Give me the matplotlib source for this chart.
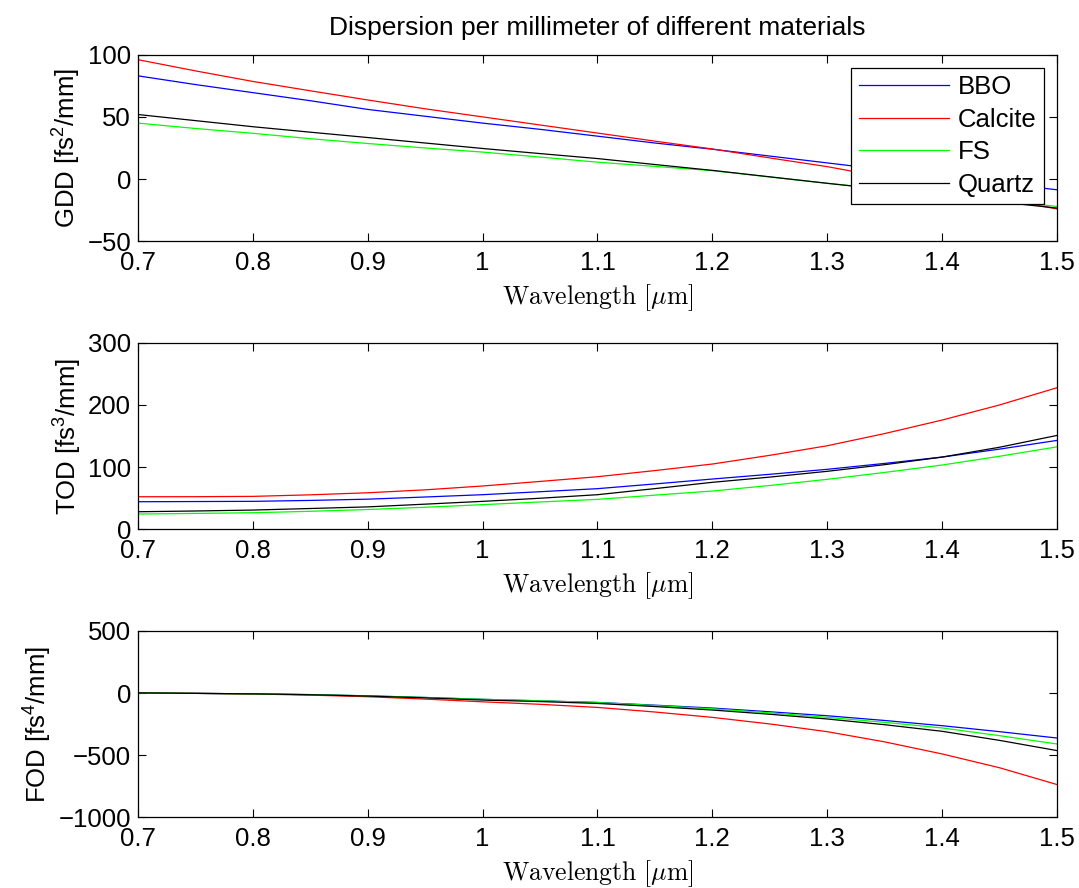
import numpy as np
import matplotlib
matplotlib.use('Agg')
import matplotlib.pyplot as plt

plt.rcParams['font.family'] = ['Liberation Sans', 'DejaVu Sans']
plt.rcParams['mathtext.fontset'] = 'custom'
plt.rcParams['mathtext.rm'] = 'Liberation Sans'
plt.rcParams['mathtext.it'] = 'Liberation Sans:italic'

# wavelength grid [um]
wavelength = [0.70, 0.75, 0.80, 0.85, 0.90, 0.95, 1.00, 1.05, 1.10,
              1.15, 1.20, 1.25, 1.30, 1.35, 1.40, 1.45, 1.50]
materials = ['BBO', 'Calcite', 'FS', 'Quartz']
colors = ['b', 'r', '#00ff00', 'k']

# GDD [fs^2/mm]
gdd_bbo = [83, 76, 69.5, 63, 56, 50.5, 45, 40, 34.5, 29, 24, 18.5, 13, 7.5, 2, -3.3, -8.6]
gdd_calcite = [96, 87, 78.5, 71, 63.6, 56.5, 50, 43.5, 37, 30.5, 24.2, 17, 10, 1.5, -7, -15.5, -24]
gdd_fs = [45, 40.7, 36.8, 32.5, 28.6, 25, 21.7, 17.7, 13.6, 10.2, 6.8, 1.7, -3.4, -8, -12.7, -17.3, -22]
gdd_quartz = [51.9, 47, 42.1, 37.7, 33.4, 29, 24.6, 20.5, 16.5, 11.7, 7, 1.8, -3.4, -8.4, -13.4, -18.4, -23.3]

# TOD [fs^3/mm]
tod_bbo = [44.4, 44.7, 45, 46.5, 48.5, 52, 55.7, 60.5, 65.4, 73, 80.9, 88.5, 96.5, 106, 116.2, 129, 143]
tod_calcite = [52.4, 52.5, 53, 55.5, 58.8, 63.5, 69.7, 77, 84.6, 94.5, 105, 119, 134.4, 154, 175.7, 200, 227.7]
tod_fs = [24.6, 25.6, 26.7, 29, 31.9, 35.5, 39.7, 44, 48.2, 55, 61.6, 70.5, 80.4, 91.5, 103.4, 117.5, 132.6]
tod_quartz = [28.3, 29.5, 31, 33.5, 36.1, 40.5, 45, 50, 55.7, 65.5, 75.6, 84, 93.3, 104, 116.2, 132, 151]

# FOD [fs^4/mm]
fod_bbo = [2, -2, -6, -12, -22, -35, -50, -62, -75, -97, -120, -150, -182, -220, -262, -310, -361]
fod_calcite = [2, -2, -7, -16, -29, -48, -70, -90, -115, -152, -195, -248, -310, -392, -489, -600, -735]
fod_fs = [2, -2, -6, -12, -22, -35, -50, -62, -76, -100, -126, -159, -195, -235, -280, -342, -409]
fod_quartz = [2, -2, -6, -13, -24, -38, -56, -68, -83, -108, -136, -170, -208, -254, -307, -380, -462]

panels = [
    ([gdd_bbo, gdd_calcite, gdd_fs, gdd_quartz], r'GDD [fs$^2$/mm]', (-50, 100), [-50, 0, 50, 100]),
    ([tod_bbo, tod_calcite, tod_fs, tod_quartz], r'TOD [fs$^3$/mm]', (0, 300), [0, 100, 200, 300]),
    ([fod_bbo, fod_calcite, fod_fs, fod_quartz], r'FOD [fs$^4$/mm]', (-1000, 500), [-1000, -500, 0, 500]),
]

fig = plt.figure(figsize=(10.79, 8.88), dpi=100)
bottoms = [0.7283, 0.4039, 0.0794]
xticks = [0.7, 0.8, 0.9, 1.0, 1.1, 1.2, 1.3, 1.4, 1.5]
xticklabels = ['0.7', '0.8', '0.9', '1', '1.1', '1.2', '1.3', '1.4', '1.5']

for i, (series, ylab, ylim, yticks) in enumerate(panels):
    ax = fig.add_axes([0.1279, bottoms[i], 0.8517, 0.2101])
    for vals, name, c in zip(series, materials, colors):
        ax.plot(wavelength, vals, color=c, linewidth=0.9, label=name)
    ax.set_xlim(0.7, 1.5)
    ax.set_ylim(*ylim)
    ax.set_xticks(xticks)
    ax.set_xticklabels(xticklabels)
    ax.set_yticks(yticks)
    ax.tick_params(direction='in', length=6, width=0.8, labelsize=18.5,
                   top=True, right=True, pad=5)
    ax.tick_params(axis='x', pad=7)
    for sp in ax.spines.values():
        sp.set_linewidth(0.9)
    ax.set_ylabel(ylab, fontsize=18.5, labelpad=3)
    ax.set_xlabel(r'$\mathrm{Wavelength}\ [\mu\mathrm{m}]$', fontsize=18.5,
                  math_fontfamily='cm', labelpad=5)
    if i == 0:
        ax.set_title('Dispersion per millimeter of different materials',
                     fontsize=19, pad=14)
        leg = ax.legend(loc='upper right', fontsize=18.5, fancybox=False,
                        edgecolor='k', framealpha=1, borderaxespad=0.5,
                        handlelength=3.5, handletextpad=0.35, labelspacing=0.33,
                        borderpad=0.3)
        leg.get_frame().set_linewidth(0.9)

fig.savefig('out.png', dpi=100)
